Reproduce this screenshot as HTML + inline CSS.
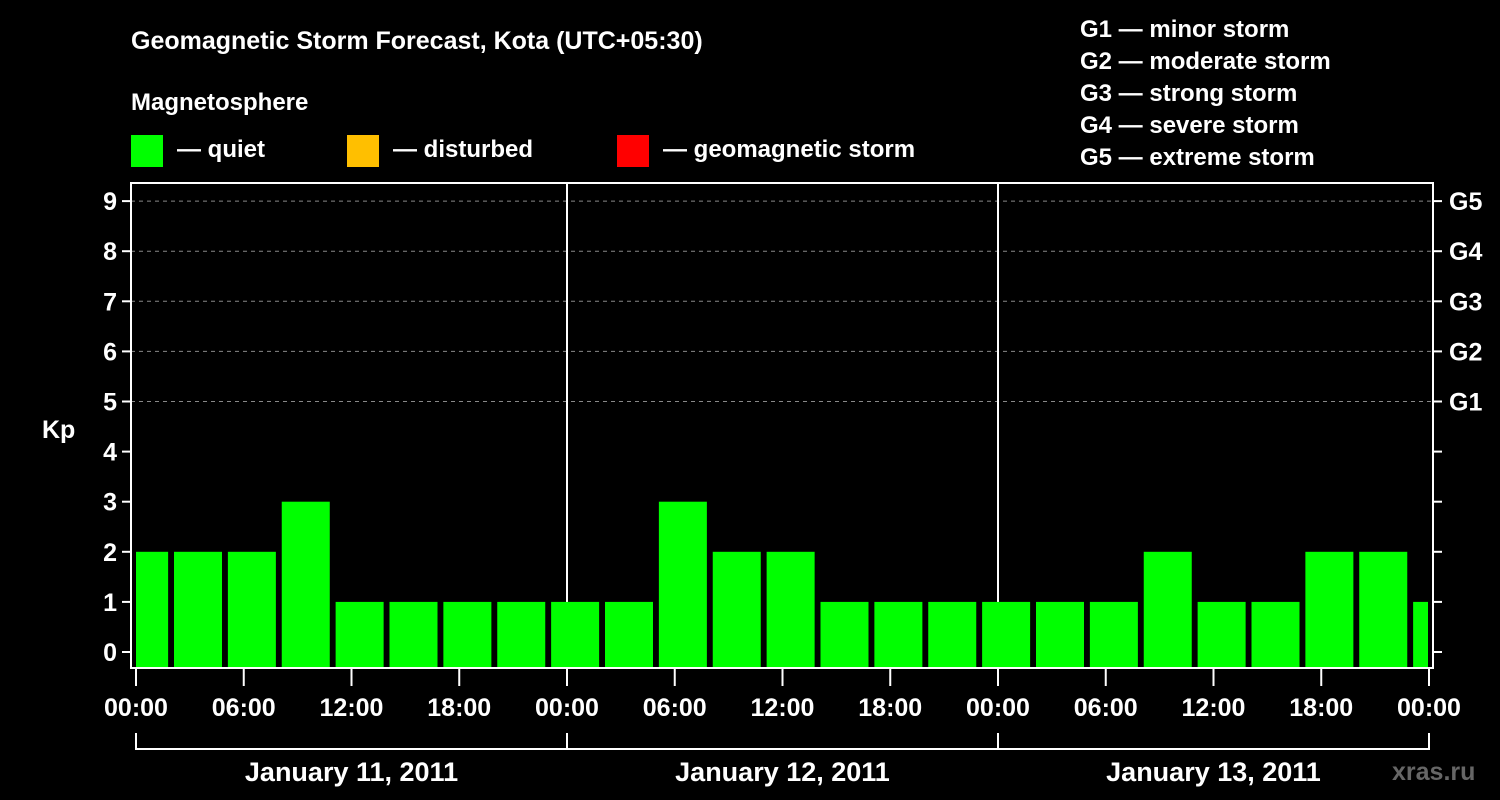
<!DOCTYPE html>
<html><head><meta charset="utf-8"><style>
html,body{margin:0;padding:0;background:#000;width:1500px;height:800px;overflow:hidden}
text{font-family:"Liberation Sans",sans-serif;font-weight:bold;fill:#fff}
</style></head><body>
<svg id="chart" width="1500" height="800" xmlns="http://www.w3.org/2000/svg">
<text x="131" y="49" font-size="25">Geomagnetic Storm Forecast, Kota (UTC+05:30)</text>
<text x="131" y="110" font-size="24">Magnetosphere</text>
<g>
<rect x="131" y="135" width="32" height="32" fill="#00ff00"/>
<text x="177" y="157" font-size="24">— quiet</text>
<rect x="347" y="135" width="32" height="32" fill="#ffbf00"/>
<text x="393" y="157" font-size="24">— disturbed</text>
<rect x="617" y="135" width="32" height="32" fill="#ff0000"/>
<text x="663" y="157" font-size="24">— geomagnetic storm</text>
</g>
<g font-size="24">
<text x="1080" y="37">G1 — minor storm</text>
<text x="1080" y="69">G2 — moderate storm</text>
<text x="1080" y="101">G3 — strong storm</text>
<text x="1080" y="133">G4 — severe storm</text>
<text x="1080" y="165">G5 — extreme storm</text>
</g>
<text x="42" y="438" font-size="25">Kp</text>
<g id="grid"></g><g id="bars"></g><g id="axes"></g>
<text x="1392" y="780" font-size="25" style="fill:#666">xras.ru</text>
</svg>
<script>
const kpValues=[2,2,2,3,1,1,1,1,1,1,3,2,2,1,1,1,1,1,1,2,1,1,2,2,1];
const yTicks=[0,1,2,3,4,5,6,7,8,9];
const gLabels=["G1","G2","G3","G4","G5"];
const xTickLabels=["00:00","06:00","12:00","18:00","00:00","06:00","12:00","18:00","00:00","06:00","12:00","18:00","00:00"];
const dayLabels=["January 11, 2011","January 12, 2011","January 13, 2011"];
const NS="http://www.w3.org/2000/svg";
const L=131,R=1433,T=183,B=668,X0=136,DAY=431;
const y=v=>652-50.1*v;
const xh=h=>X0+DAY*h/24;
function mk(tag,attrs,parent,txt){const e=document.createElementNS(NS,tag);for(const k in attrs)e.setAttribute(k,attrs[k]);if(txt!==undefined)e.textContent=txt;parent.appendChild(e);return e;}
const grid=document.getElementById('grid'),bars=document.getElementById('bars'),axes=document.getElementById('axes');
yTicks.forEach(v=>{
 if(v>=5){const g=mk('line',{x1:L,x2:R,y1:y(v),y2:y(v),stroke:'#888','stroke-dasharray':'4,4','stroke-width':1},grid);
 }
 const t=mk('line',{x1:L-9,x2:L,y1:y(v),y2:y(v),stroke:'#fff','stroke-width':2},axes);
 
 const t2=mk('line',{x1:R,x2:R+9,y1:y(v),y2:y(v),stroke:'#fff','stroke-width':2},axes);
 
 const lb=mk('text',{x:L-14,y:y(v)+9,'font-size':25,'text-anchor':'end'},axes,String(v));
 
});
gLabels.forEach((g,i)=>{const lb=mk('text',{x:R+16,y:y(5+i)+9,'font-size':25},axes,g);
 });
[1,2].forEach(d=>{const l=mk('line',{x1:xh(24*d),x2:xh(24*d),y1:T,y2:B,stroke:'#fff','stroke-width':2},grid);
 });
// bars: 3h slots offset by local time shift; first slot starts at -0.9h (partially clipped)
const slot=DAY/8;
kpValues.forEach((v,i)=>{
 let x1=174+slot*(i-1), x2=x1+48;
 x1=Math.max(x1,X0); x2=Math.min(x2,R-5);
 const c=v>=5?'#ff0000':(v>=4?'#ffbf00':'#00ff00');
 const b=mk('rect',{x:x1,y:y(v),width:x2-x1,height:B-1-y(v),fill:c},bars);
 
});
const fr=mk('rect',{x:L,y:T,width:R-L,height:B-T,fill:'none',stroke:'#fff','stroke-width':2},axes);

xTickLabels.forEach((s,i)=>{const x=xh(6*i);
 const t=mk('line',{x1:x,x2:x,y1:B,y2:B+18,stroke:'#fff','stroke-width':2},axes);
 
 const lb=mk('text',{x:x,y:716,'font-size':25,'text-anchor':'middle'},axes,s);
 
});
const br=mk('line',{x1:X0,x2:xh(72),y1:749,y2:749,stroke:'#fff','stroke-width':2},axes);

[0,1,2,3].forEach(d=>{const l=mk('line',{x1:xh(24*d),x2:xh(24*d),y1:733,y2:750,stroke:'#fff','stroke-width':2},axes);
 });
dayLabels.forEach((s,i)=>{const lb=mk('text',{x:xh(24*i+12),y:781,'font-size':27,'text-anchor':'middle'},axes,s);
 });
</script>
</body></html>
